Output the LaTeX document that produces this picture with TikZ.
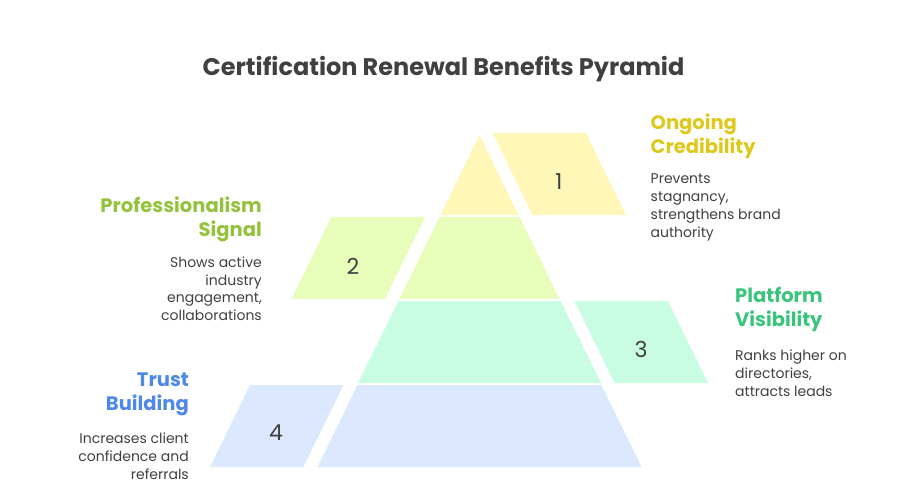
\documentclass[tikz,border=0pt]{standalone}
\usepackage{fontspec}
\setmainfont{Poppins}
\definecolor{ink}{HTML}{404040}
\definecolor{fillA}{HTML}{FFF7B8}
\definecolor{fillB}{HTML}{E8FDBA}
\definecolor{fillC}{HTML}{C9FDE3}
\definecolor{fillD}{HTML}{DCE8FD}
\definecolor{labA}{HTML}{DDC81C}
\definecolor{labB}{HTML}{94C23C}
\definecolor{labC}{HTML}{3AC47C}
\definecolor{labD}{HTML}{4E88E8}
\tikzset{
  numtxt/.style={font=\fontsize{22}{25}\selectfont, text=ink, inner sep=0pt},
  headL/.style={font=\fontsize{19.5}{24}\selectfont\bfseries, inner sep=0pt, align=left, anchor=base west},
  headR/.style={font=\fontsize{19.5}{24}\selectfont\bfseries, inner sep=0pt, align=right, anchor=base east},
  descL/.style={font=\fontsize{14}{17.8}\selectfont, text=ink, inner sep=0pt, align=left, anchor=base west},
  descR/.style={font=\fontsize{14}{17.8}\selectfont, text=ink, inner sep=0pt, align=right, anchor=base east},
}
\begin{document}
\begin{tikzpicture}[x=1pt,y=-1pt]
\useasboundingbox (0,0) rectangle (924,494);
% tiers
\fill[fillA] (479.5,135) -- (518.5,215) -- (440.5,215) -- cycle;
\fill[fillB] (439.5,217) -- (519.5,217) -- (559.5,299) -- (399.5,299) -- cycle;
\fill[fillC] (398.5,301) -- (560.5,301) -- (601,383) -- (358,383) -- cycle;
\fill[fillD] (357.5,385) -- (601.5,385) -- (641.5,467) -- (317.5,467) -- cycle;
% side parallelograms
\fill[fillA] (492.5,133) -- (586,133) -- (626,215) -- (532.5,215) -- cycle;
\fill[fillB] (331.5,217) -- (425,217) -- (385,299) -- (291.5,299) -- cycle;
\fill[fillC] (574.5,301) -- (668,301) -- (708,383) -- (614.5,383) -- cycle;
\fill[fillD] (250,385) -- (343.5,385) -- (303.5,467) -- (210,467) -- cycle;
% numbers
\node[numtxt] (n1) at (559,182) {1};
\node[numtxt] (n2) at (353,266) {2};
\node[numtxt] (n3) at (641,349) {3};
\node[numtxt] (n4) at (276,433) {4};
% title
\node[font=\fontsize{24}{28}\selectfont\bfseries, text=ink, anchor=base, inner sep=0pt] (title) at (443.5,76) {Certification Renewal Benefits Pyramid};
% labels (anchor = baseline of last line)
\node[headL, text=labA] (h1) at (650.5,153.3) {Ongoing\\Credibility};
\node[descL] (d1) at (650.5,237.3) {Prevents\\stagnancy,\\strengthens brand\\authority};
\node[headR, text=labB] (h2) at (262,236.7) {Professionalism\\Signal};
\node[descR] (d2) at (262,320.7) {Shows active\\industry\\engagement,\\collaborations};
\node[headL, text=labC] (h3) at (735,326.7) {Platform\\Visibility};
\node[descL] (d3) at (735,396) {Ranks higher on\\directories,\\attracts leads};
\node[headR, text=labD] (h4) at (189,410.7) {Trust\\Building};
\node[descR] (d4) at (189,479.3) {Increases client\\confidence and\\referrals};
\end{tikzpicture}
\end{document}
